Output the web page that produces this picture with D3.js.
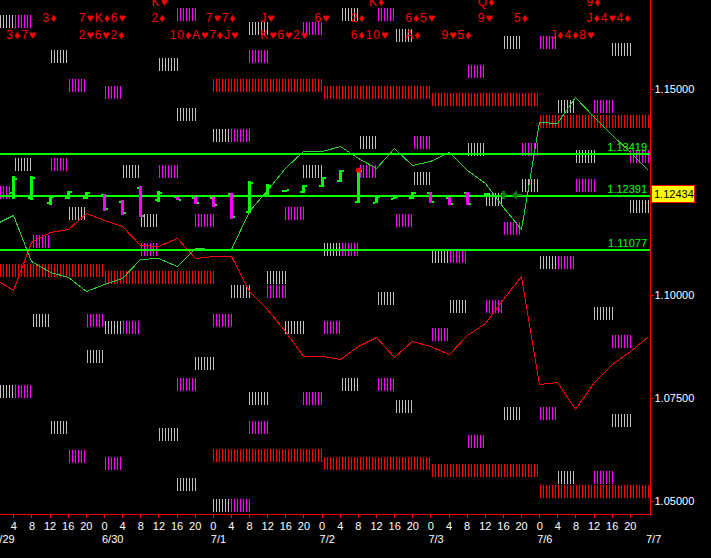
<!DOCTYPE html>
<html><head><meta charset="utf-8">
<script src="https://cdn.jsdelivr.net/npm/d3@7"></script>
<style>
html,body{margin:0;padding:0;background:#000;overflow:hidden}
svg{display:block}
text{font-family:"Liberation Sans",Arial,sans-serif}
</style></head><body>
<svg id="c" width="711" height="558"></svg>
<script>
// ---------------- DATA ----------------
const dates = ["6/29","6/30","7/1","7/2","7/3","7/6","7/7"];
const hourStep = 4;            // hours per bar
const barsPerDay = 6;
const priceTicks = [1.15, 1.10, 1.075, 1.05];
const levelValues = [1.13419, 1.12391, 1.11077];
const currentPrice = 1.12434;

// thin green series (one value per bar 0..36)
const greenSeries = [1.11727,1.11945,1.10806,1.10539,1.10418,1.10079,1.10248,1.10394,1.10855,1.10879,
  1.10685,1.11145,1.11097,1.11097,1.12042,1.12552,1.13085,1.13497,1.13497,1.13618,
  1.13327,1.13085,1.13570,1.13158,1.13255,1.13473,1.13036,1.12721,1.12139,1.11582,
  1.14200,1.14176,1.14806,1.14321,1.13885,1.13473,1.13036];
// thin red series (one value per bar 0..36)
const redSeries = [1.10370,1.10103,1.11267,1.11533,1.11606,1.11970,1.11824,1.11655,1.11194,1.11170,
  1.11364,1.10879,1.10927,1.10927,1.10079,1.09642,1.09109,1.08503,1.08503,1.08430,
  1.08745,1.08964,1.08479,1.08867,1.08745,1.08552,1.09012,1.09303,1.09885,1.10442,
  1.07824,1.07873,1.07218,1.07873,1.08309,1.08624,1.08988];

// candles for bars 1..28
const candleBars  = d3.range(1, 29);
const candleOpen  = [1.12479,1.12358,1.12236,1.12358,1.12358,1.12430,1.12261,1.12600,1.12309,1.12382,1.12358,1.12358,1.12455,1.12018,1.12455,1.12527,1.12503,1.12648,1.12770,1.12261,1.12236,1.12333,1.12358,1.12479,1.12358,1.12479,1.12406,1.12430];
const candleHigh  = [1.12891,1.12891,1.12406,1.12527,1.12503,1.12455,1.12309,1.12648,1.12527,1.12382,1.12382,1.12382,1.12479,1.12770,1.12697,1.12552,1.12673,1.12867,1.13036,1.13036,1.12406,1.12406,1.12503,1.12503,1.12382,1.12503,1.12479,1.12527];
const candleLow   = [1.12333,1.12309,1.12188,1.12333,1.12333,1.12042,1.11945,1.11897,1.12261,1.12309,1.12212,1.12139,1.11848,1.11970,1.12430,1.12503,1.12479,1.12624,1.12745,1.12236,1.12236,1.12333,1.12333,1.12236,1.12188,1.12188,1.12382,1.12333];
const candleClose = [1.12818,1.12842,1.12382,1.12503,1.12479,1.12067,1.11970,1.11921,1.12479,1.12309,1.12236,1.12164,1.11873,1.12721,1.12648,1.12540,1.12648,1.12842,1.13012,1.13012,1.12382,1.12382,1.12479,1.12261,1.12212,1.12212,1.12455,1.12430];
const signalDotBar = 20, signalDotPrice = 1.13030;
const arrowBar = 29, arrowPrice = 1.12430;

// hatched level blocks: [bar, price]
const whiteBlocks = [[0,1.16636],[14,1.16467],[3,1.15776],[9,1.15594],[10,1.14382],[12,1.13873],[1,1.13170],[7,1.13000],[17,1.13000],[4,1.11970],[8,1.11788],[18,1.11097],
  [19,1.16806],[22,1.16297],[28,1.16115],[34,1.15945],[31,1.14564],[20,1.13703],[26,1.13521],[32,1.13352],[23,1.12830],[29,1.12661],[27,1.12309],[35,1.12139],[24,1.10927],[30,1.10770],
  [15,1.10406],[13,1.10067],[2,1.09364],[6,1.09194],[16,1.09194],[5,1.08503],[11,1.08333],[0,1.07642],[14,1.07473],[3,1.06770],[9,1.06600],[10,1.05388],[12,1.04879],
  [21,1.09897],[25,1.09715],[33,1.09545],[19,1.07812],[22,1.07291],[28,1.07121],[34,1.06952],[31,1.05558]];
const magentaBlocks = [[1,1.16636],[10,1.16806],[17,1.16467],[14,1.15776],[4,1.15085],[6,1.14915],[13,1.13873],[3,1.13170],[9,1.13000],[0,1.12491],[11,1.11788],[16,1.11970],[2,1.11279],[8,1.11097],[19,1.11097],
  [21,1.16806],[30,1.16115],[26,1.15424],[33,1.14564],[23,1.13703],[29,1.13521],[35,1.13352],[20,1.13000],[32,1.12661],[22,1.11788],[28,1.11618],[25,1.10927],[31,1.10770],
  [15,1.10067],[5,1.09364],[7,1.09194],[12,1.09364],[18,1.09194],[10,1.07812],[1,1.07642],[17,1.07473],[14,1.06770],[4,1.06079],[6,1.05909],[13,1.04879],
  [27,1.09715],[24,1.09024],[34,1.08855],[21,1.07812],[30,1.07121],[26,1.06430],[33,1.05558]];
// daily red bands: [dayIndex, price]
const dayBands = [[0,1.10576],[1,1.10406],[2,1.15085],[3,1.14915],[4,1.14733],[5,1.14212],
  [2,1.06091],[3,1.05909],[4,1.05739],[5,1.05218]];

// card annotations: [row, startBar, text]
const cardLabels = [
  [0,9,"K♥"],[0,21,"K♦"],[0,27,"Q♦"],[0,33,"9♦"],
  [1,3,"3♦"],[1,5,"7♥K♦6♥"],[1,9,"2♦"],[1,12,"7♥7♦"],[1,15,"J♥"],[1,18,"6♥"],[1,20,"2♦"],[1,23,"6♦5♥"],[1,27,"9♥"],[1,29,"5♦"],[1,33,"J♦4♥4♦"],
  [2,1,"3♦7♥"],[2,5,"2♥6♥2♦"],[2,10,"10♦A♥7♦J♥"],[2,15,"K♥6♥2♥"],[2,20,"6♦10♥"],[2,23,"A♦"],[2,25,"9♥5♦"],[2,31,"J♦4♦8♥"]];

// ---------------- DRAW ----------------
const W = 711, H = 558, plotR = 650, plotB = 514;
const svg = d3.select("#c");
svg.append("rect").attr("width", W).attr("height", H).attr("fill", "#000");

const x = d3.scaleLinear().domain([0, 36]).range([-4.8, 648]);
const y = d3.scaleLinear().domain([1.05, 1.15]).range([500.8, 88.6]);

const defs = svg.append("defs");
defs.append("clipPath").attr("id", "plot").append("rect")
  .attr("x", 0).attr("y", 0).attr("width", plotR).attr("height", plotB);
function hatch(id, color) {
  const p = defs.append("pattern").attr("id", id).attr("patternUnits", "userSpaceOnUse")
    .attr("x", 0).attr("y", 0).attr("width", 3).attr("height", 30);
  p.append("rect").attr("x", 0).attr("y", 0).attr("width", 1).attr("height", 30).attr("fill", color);
}
hatch("hWhite", "#c0c0c0");
hatch("hMag", "#ff00ff");
hatch("hRed", "#ff0000");

const g = svg.append("g").attr("clip-path", "url(#plot)");
const BH = 13;

// daily bands
g.append("g").selectAll("rect").data(dayBands).join("rect")
  .attr("x", d => Math.round(x(d[0] * barsPerDay)))
  .attr("width", d => Math.round(x((d[0] + 1) * barsPerDay)) - Math.round(x(d[0] * barsPerDay)) + 1)
  .attr("y", d => Math.round(y(d[1]) - BH / 2))
  .attr("height", BH)
  .attr("fill", "url(#hRed)").attr("shape-rendering", "crispEdges");

function blocks(data, fill) {
  g.append("g").selectAll("rect").data(data).join("rect")
    .attr("x", d => Math.round(x(d[0])))
    .attr("width", d => Math.round(x(d[0] + 1)) - Math.round(x(d[0])) + 1)
    .attr("y", d => Math.round(y(d[1]) - BH / 2))
    .attr("height", BH)
    .attr("fill", fill).attr("shape-rendering", "crispEdges");
}
blocks(whiteBlocks, "url(#hWhite)");
blocks(magentaBlocks, "url(#hMag)");

// thin series
const line = d3.line().x((d, i) => Math.round(x(i)) + 0.5).y(d => Math.round(y(d)) + 0.5);
g.append("path").attr("d", line(redSeries)).attr("fill", "none")
  .attr("stroke", "#ff0000").attr("stroke-width", 1).attr("shape-rendering", "crispEdges");
g.append("path").attr("d", line(greenSeries)).attr("fill", "none")
  .attr("stroke", "#32cd32").attr("stroke-width", 1).attr("shape-rendering", "crispEdges");

// level lines
g.append("g").selectAll("rect").data(levelValues).join("rect")
  .attr("x", 0).attr("width", plotR)
  .attr("y", d => Math.round(y(d)) - 1).attr("height", 2)
  .attr("fill", "#00ff00").attr("shape-rendering", "crispEdges");
g.append("g").selectAll("text").data(levelValues).join("text")
  .attr("x", 647).attr("y", d => Math.round(y(d)) - 3)
  .attr("text-anchor", "end").attr("font-size", 11).attr("fill", "#00ff00")
  .text(d => d3.format(".5f")(d));

// candles
const candles = candleBars.map((b, i) => ({b, o: candleOpen[i], h: candleHigh[i], l: candleLow[i], c: candleClose[i], last: i === candleBars.length - 1}));
const cg = g.append("g").attr("shape-rendering", "crispEdges");
candles.forEach(d => {
  const cx = Math.round(x(d.b));
  const col = d.last ? "#008000" : (d.c >= d.o ? "#00ff00" : "#ff00ff");
  const yh = Math.round(y(d.h)), yl = Math.round(y(d.l));
  cg.append("rect").attr("x", cx - 1).attr("y", yh).attr("width", 3).attr("height", Math.max(2, yl - yh)).attr("fill", col);
  cg.append("rect").attr("x", cx - 3).attr("y", Math.round(y(d.o)) - 1).attr("width", 2).attr("height", 2).attr("fill", d.last ? col : "#00ff00");
  cg.append("rect").attr("x", cx + 2).attr("y", Math.round(y(d.c)) - 1).attr("width", 2).attr("height", 2).attr("fill", d.last ? col : "#00ff00");
});
// signal dot
g.append("circle").attr("cx", Math.round(x(signalDotBar)) + 0.5).attr("cy", Math.round(y(signalDotPrice)))
  .attr("r", 2.6).attr("fill", "#ff0000");
// arrow
{
  const ax = Math.round(x(arrowBar)), ay = Math.round(y(arrowPrice));
  g.append("path").attr("d", `M${ax-9},${ay} L${ax-4},${ay-5} L${ax-4},${ay+5} Z M${ax-4},${ay-1} H${ax+1} V${ay+1} H${ax-4} Z`)
    .attr("fill", "#008000");
}

// card labels
const rowBase = [6, 22, 39];
g.append("g").selectAll("text").data(cardLabels).join("text")
  .attr("x", d => x(d[1]) - 7).attr("y", d => rowBase[d[0]])
  .attr("font-size", 12).attr("letter-spacing", 1)
  .attr("fill", "#ff0000").text(d => d[2]);

// axes
svg.append("rect").attr("x", plotR).attr("y", 0).attr("width", 1).attr("height", plotB + 1).attr("fill", "#ff0000");
svg.append("rect").attr("x", 0).attr("y", plotB).attr("width", plotR + 1).attr("height", 1).attr("fill", "#ff0000");

const yAxis = d3.axisRight(y).tickValues(priceTicks).tickFormat(d3.format(".5f")).tickSize(3).tickPadding(1);
const ya = svg.append("g").attr("transform", `translate(${plotR + 0.5},0)`).call(yAxis);
ya.select(".domain").remove();
ya.selectAll("line").attr("stroke", "#ff0000").attr("shape-rendering", "crispEdges");
ya.selectAll("text").attr("fill", "#ffffff").attr("font-size", 11).attr("font-family", "Liberation Sans, Arial, sans-serif");

const xAxis = d3.axisBottom(x).tickValues(d3.range(1, 36)).tickFormat(b => (b * hourStep) % 24).tickSize(3).tickPadding(5);
const xa = svg.append("g").attr("transform", `translate(0,${plotB + 0.5})`).call(xAxis);
xa.select(".domain").remove();
xa.selectAll("line").attr("stroke", "#ff0000").attr("shape-rendering", "crispEdges");
xa.selectAll("text").attr("fill", "#ffffff").attr("font-size", 11).attr("font-family", "Liberation Sans, Arial, sans-serif");

svg.append("g").selectAll("text").data(dates).join("text")
  .attr("x", (d, i) => x(i * barsPerDay) - 2).attr("y", 543)
  .attr("font-size", 11).attr("fill", "#ffffff").text(d => d);

// current price label
{
  const cy = Math.round(y(currentPrice));
  svg.append("rect").attr("x", plotR + 1.5).attr("y", cy - 8.5).attr("width", 43).attr("height", 17)
    .attr("fill", "#ffff00").attr("stroke", "#ff0000").attr("stroke-width", 1);
  svg.append("text").attr("x", plotR + 4).attr("y", cy + 4).attr("font-size", 11).attr("fill", "#000")
    .text(d3.format(".5f")(currentPrice));
}
</script></body></html>
